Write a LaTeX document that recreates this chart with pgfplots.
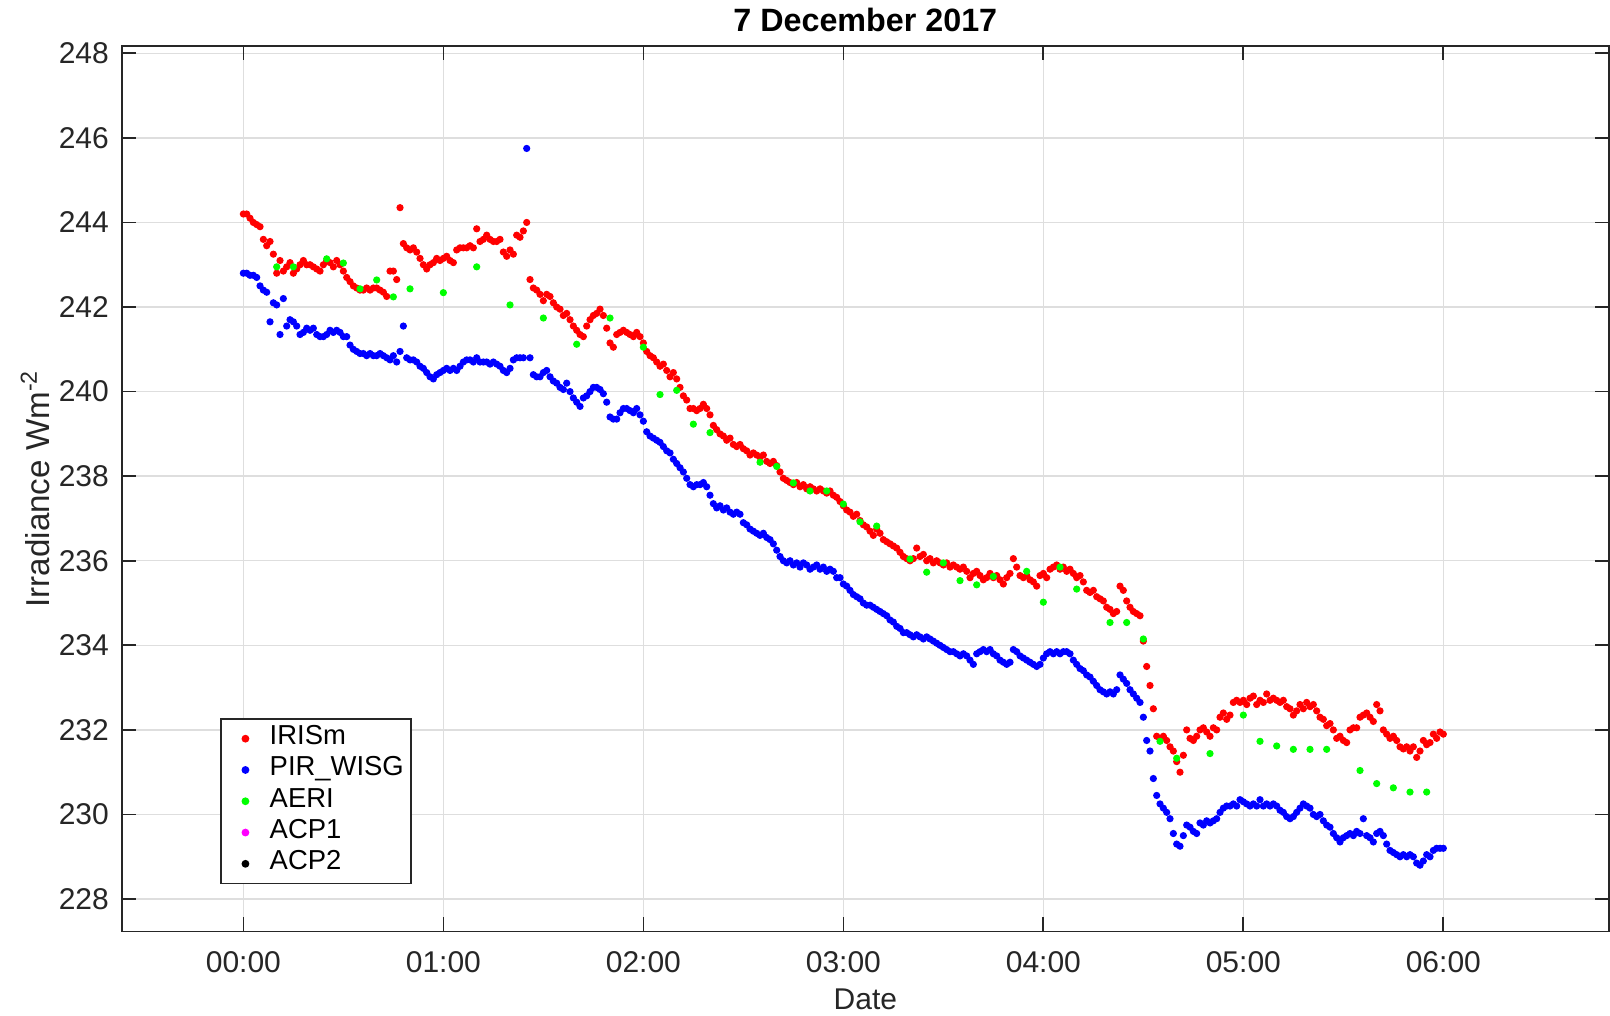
\documentclass[border=0pt]{standalone}
\usepackage{fontspec}
\setmainfont{Liberation Sans}
\usepackage{pgfplots}
\pgfplotsset{compat=1.18}
\definecolor{axgray}{RGB}{38,38,38}
\definecolor{gridgray}{RGB}{222,222,222}
\definecolor{pred}{RGB}{255,0,0}
\definecolor{pblue}{RGB}{0,0,255}
\definecolor{pgreen}{RGB}{0,255,0}
\definecolor{pmag}{RGB}{255,0,255}
\pgfplotsset{dotplot/.style={only marks, mark=*, mark size=1.05pt,
  legend image code/.code={\path (0pt,0pt) (10pt,0pt); \draw plot coordinates {(5.8pt,0pt)};}}}
\begin{document}
\begin{tikzpicture}
\begin{axis}[
 name=ax,
 scale only axis, width=520.6pt, height=310.1pt,
 xmin=-36.5, xmax=409.7, ymin=227.23, ymax=248.18,
 xtick={0,60,120,180,240,300,360},
 xticklabels={00:00,01:00,02:00,03:00,04:00,05:00,06:00},
 ytick={228,230,232,234,236,238,240,242,244,246,248},
 tick align=inside, major tick length=5pt,
 grid=major, grid style={gridgray, line width=0.5pt},
 axis line style={axgray, line width=0.6pt},
 tick style={axgray, line width=0.6pt},
 ticklabel style={font=\fontsize{10.5}{12}\selectfont, text=axgray},
 /pgf/number format/assume math mode=true,
 yticklabel style={anchor=east, inner sep=0pt, xshift=-4.3pt},
 xticklabel style={anchor=base, inner sep=0pt, yshift=-14.2pt},
 every axis title shift=0pt,
 title={7 December 2017},
 title style={font=\bfseries\fontsize{11.3}{13}\selectfont, at={(axis description cs:0.5,1)}, anchor=base, yshift=4.9pt, inner sep=0pt},
 xlabel={Date},
 xlabel style={font=\fontsize{10.5}{12}\selectfont, text=axgray, at={(axis description cs:0.5,0)}, anchor=base, yshift=-27.1pt, inner sep=0pt},
 ylabel={Irradiance Wm\textsuperscript{-2}},
 ylabel style={font=\fontsize{11.6}{13}\selectfont, text=axgray, at={(axis description cs:-0.0487,0.5)}, anchor=base, inner sep=0pt},
 legend cell align=left,
 legend style={at={(0.0661,0.2409)}, anchor=north west, draw=axgray, line width=0.6pt, fill=white,
   inner xsep=2.5pt, inner ysep=1.4pt, column sep=4pt, font=\fontsize{9.6}{11}\selectfont,
   nodes={inner sep=0pt, text height=7.5pt, text depth=3.45pt}},
]
\addplot[dotplot, color=pred] coordinates {
(0,244.2)(1,244.2)(2,244.1)(3,244.0)(4,243.95)(5,243.9)(6,243.6)(7,243.45)(8,243.55)(9,243.25)
(10,242.8)(11,243.1)(12,242.85)(13,242.95)(14,243.05)(15,242.8)(16,242.9)(17,243.0)(18,243.1)(19,243.0)
(20,243.0)(21,242.95)(22,242.9)(23,242.85)(24,243.0)(25,243.1)(26,243.05)(27,242.95)(28,243.1)(29,243.0)
(30,242.85)(31,242.7)(32,242.6)(33,242.5)(34,242.45)(35,242.4)(36,242.4)(37,242.45)(38,242.4)(39,242.45)
(40,242.45)(41,242.4)(42,242.35)(43,242.25)(44,242.85)(45,242.85)(46,242.65)(47,244.35)(48,243.5)(49,243.4)
(50,243.35)(51,243.4)(52,243.3)(53,243.15)(54,243.0)(55,242.9)(56,243.0)(57,243.05)(58,243.15)(59,243.1)
(60,243.15)(61,243.2)(62,243.1)(63,243.05)(64,243.35)(65,243.4)(66,243.4)(67,243.4)(68,243.45)(69,243.4)
(70,243.85)(71,243.55)(72,243.6)(73,243.7)(74,243.6)(75,243.55)(76,243.55)(77,243.6)(78,243.3)(79,243.2)
(80,243.35)(81,243.25)(82,243.7)(83,243.65)(84,243.8)(85,244.0)(86,242.65)(87,242.45)(88,242.4)(89,242.3)
(90,242.15)(91,242.3)(92,242.25)(93,242.1)(94,242.0)(95,241.95)(96,241.8)(97,241.85)(98,241.7)(99,241.55)
(100,241.45)(101,241.35)(102,241.3)(103,241.55)(104,241.7)(105,241.8)(106,241.85)(107,241.95)(108,241.8)(109,241.5)
(110,241.15)(111,241.05)(112,241.35)(113,241.4)(114,241.45)(115,241.4)(116,241.35)(117,241.3)(118,241.4)(119,241.3)
(120,241.15)(121,240.95)(122,240.85)(123,240.8)(124,240.7)(125,240.6)(126,240.65)(127,240.5)(128,240.35)(129,240.45)
(130,240.3)(131,240.1)(132,239.9)(133,239.8)(134,239.6)(135,239.6)(136,239.55)(137,239.6)(138,239.7)(139,239.6)
(140,239.45)(141,239.2)(142,239.1)(143,239.0)(144,238.95)(145,238.85)(146,238.9)(147,238.75)(148,238.7)(149,238.75)
(150,238.65)(151,238.6)(152,238.5)(153,238.55)(154,238.5)(155,238.45)(156,238.5)(157,238.35)(158,238.3)(159,238.35)
(160,238.25)(161,238.1)(162,237.95)(163,237.9)(164,237.85)(165,237.8)(166,237.85)(167,237.75)(168,237.8)(169,237.7)
(170,237.75)(171,237.7)(172,237.65)(173,237.7)(174,237.65)(175,237.6)(176,237.65)(177,237.55)(178,237.5)(179,237.4)
(180,237.3)(181,237.2)(182,237.15)(183,237.05)(184,237.1)(185,236.95)(186,236.85)(187,236.8)(188,236.7)(189,236.6)
(190,236.75)(191,236.65)(192,236.5)(193,236.45)(194,236.4)(195,236.35)(196,236.3)(197,236.2)(198,236.1)(199,236.05)
(200,236.0)(201,236.05)(202,236.3)(203,236.1)(204,236.15)(205,236.0)(206,236.05)(207,235.95)(208,236.0)(209,235.95)
(210,235.9)(211,235.95)(212,235.85)(213,235.9)(214,235.85)(215,235.8)(216,235.85)(217,235.75)(218,235.6)(219,235.7)
(220,235.75)(221,235.65)(222,235.55)(223,235.6)(224,235.7)(225,235.6)(226,235.65)(227,235.55)(228,235.45)(229,235.6)
(230,235.7)(231,236.05)(232,235.85)(233,235.65)(234,235.6)(235,235.65)(236,235.55)(237,235.5)(238,235.4)(239,235.65)
(240,235.7)(241,235.6)(242,235.8)(243,235.85)(244,235.9)(245,235.8)(246,235.85)(247,235.75)(248,235.8)(249,235.7)
(250,235.6)(251,235.65)(252,235.5)(253,235.3)(254,235.25)(255,235.3)(256,235.15)(257,235.1)(258,235.05)(259,234.9)
(260,234.85)(261,234.75)(262,234.8)(263,235.4)(264,235.3)(265,235.05)(266,234.9)(267,234.8)(268,234.75)(269,234.7)
(270,234.1)(271,233.5)(272,233.05)(273,232.5)(274,231.85)(275,231.8)(276,231.85)(277,231.75)(278,231.6)(279,231.5)
(280,231.25)(281,231.0)(282,231.4)(283,232.0)(284,231.8)(285,231.75)(286,231.85)(287,232.0)(288,232.05)(289,231.95)
(290,231.85)(291,232.05)(292,232.0)(293,232.3)(294,232.4)(295,232.25)(296,232.35)(297,232.65)(298,232.7)(299,232.65)
(300,232.7)(301,232.6)(302,232.75)(303,232.8)(304,232.6)(305,232.7)(306,232.65)(307,232.85)(308,232.7)(309,232.75)
(310,232.7)(311,232.65)(312,232.7)(313,232.55)(314,232.5)(315,232.35)(316,232.45)(317,232.6)(318,232.5)(319,232.65)
(320,232.55)(321,232.6)(322,232.45)(323,232.3)(324,232.25)(325,232.1)(326,232.15)(327,232.0)(328,231.8)(329,231.85)
(330,231.75)(331,231.7)(332,232.0)(333,232.05)(334,232.05)(335,232.3)(336,232.35)(337,232.4)(338,232.3)(339,232.2)
(340,232.6)(341,232.45)(342,232.0)(343,231.9)(344,231.8)(345,231.85)(346,231.75)(347,231.6)(348,231.55)(349,231.6)
(350,231.5)(351,231.6)(352,231.35)(353,231.5)(354,231.75)(355,231.65)(356,231.7)(357,231.9)(358,231.8)(359,231.95)
(360,231.9)
};
\addlegendentry{IRISm}
\addplot[dotplot, color=pblue] coordinates {
(0,242.8)(1,242.8)(2,242.75)(3,242.75)(4,242.7)(5,242.5)(6,242.4)(7,242.35)(8,241.65)(9,242.1)
(10,242.05)(11,241.35)(12,242.2)(13,241.55)(14,241.7)(15,241.65)(16,241.55)(17,241.35)(18,241.4)(19,241.5)
(20,241.45)(21,241.5)(22,241.35)(23,241.3)(24,241.3)(25,241.35)(26,241.45)(27,241.4)(28,241.45)(29,241.4)
(30,241.3)(31,241.3)(32,241.1)(33,241.0)(34,240.95)(35,240.9)(36,240.9)(37,240.85)(38,240.9)(39,240.85)
(40,240.85)(41,240.9)(42,240.85)(43,240.8)(44,240.75)(45,240.85)(46,240.7)(47,240.95)(48,241.55)(49,240.8)
(50,240.75)(51,240.75)(52,240.7)(53,240.6)(54,240.55)(55,240.45)(56,240.35)(57,240.3)(58,240.4)(59,240.45)
(60,240.5)(61,240.55)(62,240.5)(63,240.55)(64,240.5)(65,240.6)(66,240.7)(67,240.75)(68,240.75)(69,240.7)
(70,240.8)(71,240.7)(72,240.7)(73,240.7)(74,240.65)(75,240.7)(76,240.65)(77,240.6)(78,240.5)(79,240.45)
(80,240.55)(81,240.75)(82,240.8)(83,240.8)(84,240.8)(85,245.75)(86,240.8)(87,240.4)(88,240.35)(89,240.35)
(90,240.45)(91,240.5)(92,240.35)(93,240.25)(94,240.2)(95,240.1)(96,240.05)(97,240.2)(98,240.0)(99,239.85)
(100,239.75)(101,239.65)(102,239.85)(103,239.9)(104,240.0)(105,240.1)(106,240.1)(107,240.05)(108,239.95)(109,239.75)
(110,239.4)(111,239.35)(112,239.35)(113,239.5)(114,239.6)(115,239.6)(116,239.55)(117,239.5)(118,239.6)(119,239.45)
(120,239.3)(121,239.05)(122,238.95)(123,238.9)(124,238.85)(125,238.8)(126,238.7)(127,238.6)(128,238.55)(129,238.4)
(130,238.3)(131,238.2)(132,238.1)(133,237.95)(134,237.8)(135,237.75)(136,237.8)(137,237.8)(138,237.85)(139,237.75)
(140,237.55)(141,237.35)(142,237.25)(143,237.3)(144,237.2)(145,237.25)(146,237.15)(147,237.1)(148,237.15)(149,237.1)
(150,236.9)(151,236.85)(152,236.75)(153,236.7)(154,236.65)(155,236.6)(156,236.65)(157,236.55)(158,236.5)(159,236.4)
(160,236.25)(161,236.1)(162,236.0)(163,235.95)(164,236.0)(165,235.9)(166,235.95)(167,235.85)(168,235.95)(169,235.9)
(170,235.8)(171,235.85)(172,235.9)(173,235.8)(174,235.85)(175,235.75)(176,235.8)(177,235.75)(178,235.6)(179,235.6)
(180,235.45)(181,235.4)(182,235.3)(183,235.2)(184,235.15)(185,235.1)(186,235.0)(187,234.95)(188,234.95)(189,234.9)
(190,234.85)(191,234.8)(192,234.75)(193,234.7)(194,234.6)(195,234.55)(196,234.45)(197,234.4)(198,234.3)(199,234.3)
(200,234.25)(201,234.2)(202,234.25)(203,234.2)(204,234.15)(205,234.2)(206,234.15)(207,234.1)(208,234.05)(209,234.0)
(210,233.95)(211,233.9)(212,233.85)(213,233.85)(214,233.8)(215,233.75)(216,233.8)(217,233.75)(218,233.65)(219,233.55)
(220,233.8)(221,233.85)(222,233.9)(223,233.85)(224,233.9)(225,233.8)(226,233.75)(227,233.65)(228,233.6)(229,233.55)
(230,233.6)(231,233.9)(232,233.85)(233,233.75)(234,233.7)(235,233.65)(236,233.6)(237,233.55)(238,233.5)(239,233.55)
(240,233.7)(241,233.8)(242,233.85)(243,233.8)(244,233.85)(245,233.8)(246,233.85)(247,233.85)(248,233.8)(249,233.65)
(250,233.55)(251,233.45)(252,233.4)(253,233.3)(254,233.25)(255,233.15)(256,233.05)(257,232.95)(258,232.9)(259,232.85)
(260,232.9)(261,232.85)(262,232.95)(263,233.3)(264,233.2)(265,233.1)(266,232.95)(267,232.85)(268,232.75)(269,232.65)
(270,232.3)(271,231.75)(272,231.5)(273,230.85)(274,230.45)(275,230.25)(276,230.15)(277,230.05)(278,229.9)(279,229.55)
(280,229.3)(281,229.25)(282,229.5)(283,229.75)(284,229.7)(285,229.6)(286,229.55)(287,229.8)(288,229.75)(289,229.85)
(290,229.8)(291,229.85)(292,229.9)(293,230.05)(294,230.15)(295,230.2)(296,230.2)(297,230.25)(298,230.2)(299,230.35)
(300,230.3)(301,230.25)(302,230.2)(303,230.25)(304,230.2)(305,230.35)(306,230.2)(307,230.25)(308,230.2)(309,230.25)
(310,230.2)(311,230.1)(312,230.05)(313,229.95)(314,229.9)(315,229.95)(316,230.05)(317,230.15)(318,230.25)(319,230.2)
(320,230.15)(321,230.0)(322,229.95)(323,230.0)(324,229.85)(325,229.75)(326,229.7)(327,229.55)(328,229.45)(329,229.35)
(330,229.45)(331,229.5)(332,229.55)(333,229.5)(334,229.6)(335,229.55)(336,229.9)(337,229.5)(338,229.45)(339,229.35)
(340,229.55)(341,229.6)(342,229.5)(343,229.3)(344,229.15)(345,229.1)(346,229.05)(347,229.0)(348,229.05)(349,229.0)
(350,229.05)(351,229.0)(352,228.85)(353,228.8)(354,228.9)(355,229.05)(356,229.0)(357,229.15)(358,229.2)(359,229.2)
(360,229.2)
};
\addlegendentry{PIR\_WISG}
\addplot[dotplot, color=pgreen] coordinates {
(10,242.95)(15,242.95)(25,243.14)(30,243.04)(35,242.43)(40,242.64)(45,242.24)(50,242.43)(60,242.34)(70,242.95)
(80,242.05)(90,241.74)(100,241.12)(110,241.74)(120,241.05)(125,239.93)(130,240.03)(135,239.23)(140,239.03)(155,238.33)
(160,238.23)(165,237.84)(170,237.65)(175,237.65)(180,237.34)(185,236.92)(190,236.82)(200,236.04)(205,235.73)(210,235.95)
(215,235.53)(220,235.43)(225,235.63)(235,235.75)(240,235.02)(245,235.85)(250,235.33)(260,234.54)(265,234.54)(270,234.15)
(275,231.73)(280,231.33)(290,231.44)(300,232.35)(305,231.73)(310,231.62)(315,231.54)(320,231.54)(325,231.54)(335,231.04)
(340,230.73)(345,230.63)(350,230.53)(355,230.53)
};
\addlegendentry{AERI}
\addlegendimage{dotplot, color=pmag}
\addlegendentry{ACP1}
\addlegendimage{dotplot, color=black}
\addlegendentry{ACP2}
\end{axis}
\pgfresetboundingbox
\path[use as bounding box] ([shift={(-42.6pt,-29.2pt)}]ax.south west) rectangle ([shift={(0.35pt,16.0pt)}]ax.north east);
\end{tikzpicture}
\end{document}
